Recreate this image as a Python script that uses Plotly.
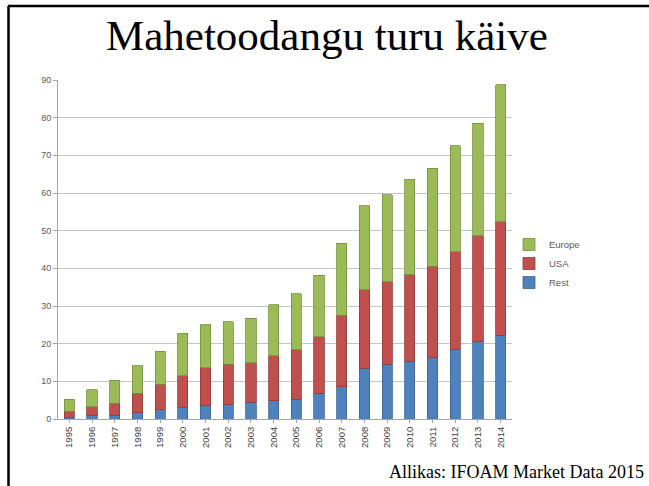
import plotly.graph_objects as go

years = [str(y) for y in range(1995, 2015)]
rest = [0.5, 0.8, 1.0, 1.6, 2.4, 3.0, 3.5, 3.9, 4.4, 4.8, 5.3, 6.9, 8.5, 13.5, 14.6, 15.3, 16.4, 18.5, 20.5, 22.3]
usa_top = [2.0, 3.2, 4.2, 6.8, 9.2, 11.5, 13.6, 14.6, 15.0, 16.8, 18.4, 21.9, 27.5, 34.3, 36.5, 38.3, 40.5, 44.4, 48.6, 52.4]
total = [5.2, 7.8, 10.3, 14.2, 18.0, 22.8, 25.0, 25.8, 26.7, 30.3, 33.3, 38.2, 46.7, 56.6, 59.6, 63.7, 66.6, 72.5, 78.5, 88.7]
usa = [round(u - r, 2) for u, r in zip(usa_top, rest)]
europe = [round(t - u, 2) for t, u in zip(total, usa_top)]
y_ticks = [0, 10, 20, 30, 40, 50, 60, 70, 80, 90]

title_text = "Mahetoodangu turu käive"
source_text = "Allikas: IFOAM Market Data 2015"

W, H = 649, 486
ML, MR, MT, MB = 58, 137, 80, 67
plot_w = W - ML - MR
plot_h = H - MT - MB


def px(x):
    return (x - ML) / plot_w


def py(y):
    return (H - MB - y) / plot_h


fig = go.Figure()
fig.add_bar(x=years, y=rest, name="Rest", marker=dict(color="#4F81BD", line=dict(color="#3A6699", width=0.8)))
fig.add_bar(x=years, y=usa, name="USA", marker=dict(color="#C0504D", line=dict(color="#943B39", width=0.8)))
fig.add_bar(x=years, y=europe, name="Europe", marker=dict(color="#9BBB59", line=dict(color="#76923C", width=0.8)))

fig.update_layout(
    width=W, height=H,
    barmode="stack", bargap=0.55,
    paper_bgcolor="white", plot_bgcolor="white",
    margin=dict(l=ML, r=MR, t=MT, b=MB),
    showlegend=True,
    legend=dict(x=px(509), y=py(230), xanchor="left", yanchor="top", traceorder="reversed",
                font=dict(family="Liberation Sans", size=9.5, color="#595959"),
                itemwidth=30, bgcolor="rgba(0,0,0,0)"),
    font=dict(family="Liberation Sans", size=9, color="#595959"),
    xaxis=dict(type="category", tickangle=-90, showgrid=False, showline=True,
               linecolor="#A6A6A6", ticks="outside", ticklen=3, tickcolor="#A6A6A6",
               tickfont=dict(size=9.5, color="#404040")),
    yaxis=dict(range=[0, 90], tickvals=y_ticks, showgrid=True, gridcolor="#C4C4C4",
               gridwidth=1, showline=True, linecolor="#A6A6A6", ticks="outside",
               ticklen=4, tickcolor="#A6A6A6", zeroline=False,
               tickfont=dict(size=9, color="#595959")),
    annotations=[
        dict(text=title_text, xref="paper", yref="paper", x=px(327), y=py(36),
             xanchor="center", yanchor="middle", showarrow=False,
             font=dict(family="Liberation Serif", size=43, color="black")),
        dict(text=source_text, xref="paper", yref="paper", x=px(646), y=py(472),
             xanchor="right", yanchor="middle", showarrow=False,
             font=dict(family="Liberation Serif", size=18, color="black")),
    ],
)

# slide frame: top and left black lines
fig.add_shape(type="line", xref="paper", yref="paper",
              x0=px(8), x1=px(649), y0=py(6), y1=py(6),
              line=dict(color="black", width=2.5))
fig.add_shape(type="line", xref="paper", yref="paper",
              x0=px(8.5), x1=px(8.5), y0=py(6), y1=py(486),
              line=dict(color="black", width=2.5))

fig.write_html("out.html", config={"displayModeBar": False},
               post_script="document.body.style.margin='0';")
